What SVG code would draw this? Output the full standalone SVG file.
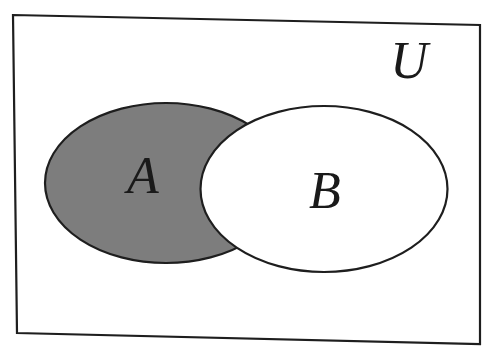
<svg xmlns="http://www.w3.org/2000/svg" width="484" height="347" viewBox="0 0 484 347">
<style>
.lbl{font-family:"Liberation Serif","Times New Roman",serif;font-style:italic;font-size:52px;fill:#1a1a1a;text-anchor:middle}
.ln{stroke:#1e1e1e;stroke-width:2.2;}
</style>
<rect width="484" height="347" fill="#ffffff"/>
<g id="universe">
<polygon class="ln" points="13,15 480,25 480,344 17,333" fill="#ffffff"/>
<text class="lbl" x="409" y="78">U</text>
</g>
<g id="setA">
<ellipse class="ln" cx="166" cy="183" rx="121" ry="80" fill="#7d7d7d"/>
<text class="lbl" x="143" y="193">A</text>
</g>
<g id="setB">
<ellipse class="ln" cx="324" cy="189" rx="123.5" ry="83" fill="#ffffff"/>
<text class="lbl" x="325" y="208">B</text>
</g>
<g id="connectors"/>
</svg>
